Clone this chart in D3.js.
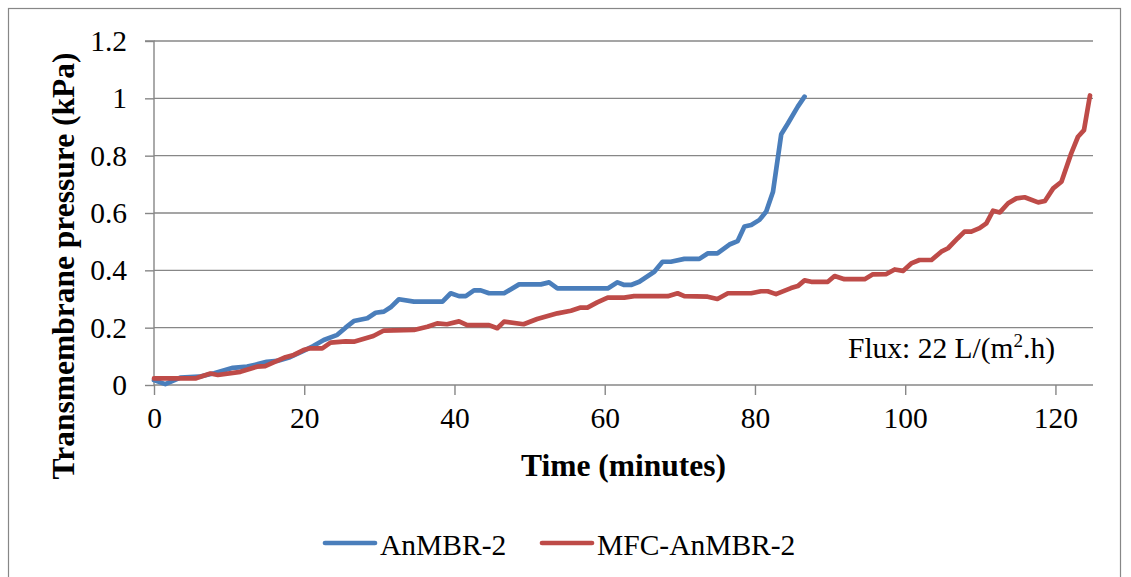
<!DOCTYPE html>
<html>
<head>
<meta charset="utf-8">
<script src="https://cdn.jsdelivr.net/npm/d3@7"></script>
<style>
  html, body { margin: 0; padding: 0; background: #ffffff; }
  svg { display: block; }
  text { font-family: "Liberation Serif", "Times New Roman", serif; fill: #000; }
</style>
</head>
<body>
<svg id="chart" width="1131" height="577"></svg>
<script>
// ---- Data ----
const anmbrTime = [0, 1.5, 3.5, 6, 8, 10.5, 12.4, 13.7, 15, 16.4, 18.1, 19.9, 21.2, 22.6, 24.4, 25.5, 26.6, 28.4, 29.5, 30.6, 31.5, 32.6, 34.6, 38.4, 39.5, 40.6, 41.5, 42.6, 43.5, 44.6, 46.6, 48.6, 51.5, 52.6, 53.7, 60.4, 61.7, 62.6, 63.5, 64.6, 66.6, 67.7, 68.8, 70.6, 72.6, 73.7, 75, 76.6, 77.7, 78.6, 79.5, 80.6, 81.5, 82.4, 83.5, 84.4, 85.7, 86.6];
const anmbrTmp  = [0.017, 0.003, 0.026, 0.029, 0.041, 0.06, 0.064, 0.072, 0.081, 0.084, 0.097, 0.119, 0.136, 0.157, 0.175, 0.2, 0.223, 0.233, 0.252, 0.256, 0.271, 0.299, 0.291, 0.291, 0.32, 0.31, 0.31, 0.33, 0.33, 0.32, 0.32, 0.351, 0.351, 0.358, 0.337, 0.337, 0.358, 0.349, 0.349, 0.36, 0.395, 0.43, 0.43, 0.44, 0.44, 0.459, 0.459, 0.49, 0.502, 0.553, 0.558, 0.576, 0.605, 0.674, 0.875, 0.913, 0.971, 1.006];

const mfcTime = [0, 5.5, 7.5, 8.5, 11.5, 13.7, 14.8, 17.5, 18.6, 19.9, 20.8, 22.4, 23.5, 25.5, 26.6, 29.2, 30.6, 34.6, 36.4, 37.7, 39, 40.6, 41.7, 44.6, 45.7, 46.6, 49.2, 51, 53.7, 55.5, 56.8, 57.7, 59, 60.4, 62.6, 63.9, 68.4, 69.7, 70.6, 73.7, 75, 76.4, 79.5, 80.8, 81.7, 82.8, 84.8, 85.7, 86.6, 87.5, 89.7, 90.6, 91.9, 94.6, 95.7, 97.5, 98.6, 99.7, 100.8, 101.9, 103.5, 104.8, 105.7, 107, 107.9, 108.8, 109.9, 110.8, 111.7, 112.6, 113.7, 114.8, 115.9, 117.7, 118.6, 119.7, 120.8, 122.1, 123, 123.8, 124.6];
const mfcTmp  = [0.023, 0.023, 0.04, 0.035, 0.046, 0.064, 0.066, 0.097, 0.105, 0.122, 0.128, 0.128, 0.148, 0.152, 0.151, 0.171, 0.19, 0.192, 0.203, 0.215, 0.212, 0.222, 0.209, 0.209, 0.198, 0.221, 0.212, 0.23, 0.25, 0.259, 0.27, 0.27, 0.288, 0.305, 0.305, 0.31, 0.31, 0.32, 0.31, 0.308, 0.30, 0.32, 0.32, 0.327, 0.327, 0.317, 0.338, 0.345, 0.365, 0.36, 0.36, 0.38, 0.369, 0.369, 0.386, 0.387, 0.403, 0.398, 0.424, 0.436, 0.436, 0.465, 0.477, 0.512, 0.535, 0.535, 0.547, 0.564, 0.608, 0.602, 0.634, 0.651, 0.655, 0.637, 0.642, 0.686, 0.709, 0.808, 0.866, 0.889, 1.01];

const xTicks = [0, 20, 40, 60, 80, 100, 120];
const yTicks = [0, 0.2, 0.4, 0.6, 0.8, 1, 1.2];
const seriesNames = ["AnMBR-2", "MFC-AnMBR-2"];
const seriesColors = ["#4A7EBB", "#BE4B48"];
const xTitle = "Time (minutes)";
const yTitle = "Transmembrane pressure (kPa)";
const note = "Flux: 22 L/(m";

// ---- Layout ----
const svg = d3.select("#chart");
const x = d3.scaleLinear().domain([0, 125]).range([154, 1093]);
const y = d3.scaleLinear().domain([0, 1.2]).range([385, 41]);
const gridColor = "#878787";

// outer chart border
svg.append("rect").attr("x", 8.5).attr("y", 8.5).attr("width", 1112).attr("height", 620)
  .attr("fill", "none").attr("stroke", gridColor).attr("stroke-width", 1.2);

// horizontal gridlines
svg.append("g").selectAll("line").data(yTicks.filter(d => d > 0)).join("line")
  .attr("x1", x(0)).attr("x2", x(125))
  .attr("y1", d => y(d)).attr("y2", d => y(d))
  .attr("stroke", gridColor).attr("stroke-width", 1.4);

// y axis
const yAxis = d3.axisLeft(y).tickValues(yTicks).tickSize(9).tickPadding(18)
  .tickFormat(d => d3.format("~g")(d));
const gy = svg.append("g").attr("transform", `translate(${x(0)},0)`).call(yAxis);
gy.select(".domain").attr("stroke", gridColor).attr("stroke-width", 1.4)
  .attr("d", `M-9,${y(1.2)}H0V${y(0)}`);
gy.selectAll(".tick line").attr("stroke", gridColor).attr("stroke-width", 1.4);
gy.selectAll(".tick text").attr("font-size", 29.5).attr("font-family", "Liberation Serif").attr("fill", "#000");

// x axis
const xAxis = d3.axisBottom(x).tickValues(xTicks).tickSize(10).tickPadding(12);
const gx = svg.append("g").attr("transform", `translate(0,${y(0)})`).call(xAxis);
gx.select(".domain").attr("stroke", gridColor).attr("stroke-width", 1.4)
  .attr("d", `M${x(0)},0H${x(125)}`);
gx.selectAll(".tick line").attr("stroke", gridColor).attr("stroke-width", 1.4);
gx.selectAll(".tick text").attr("font-size", 29.5).attr("font-family", "Liberation Serif").attr("fill", "#000");

// axis titles
svg.append("text").attr("x", x(62.5)).attr("y", 476).attr("text-anchor", "middle")
  .attr("font-size", 31.5).attr("font-weight", "bold").text(xTitle);
svg.append("text").attr("transform", `translate(74,266) rotate(-90)`).attr("text-anchor", "middle")
  .attr("font-size", 31.5).attr("font-weight", "bold").text(yTitle);

// lines
const line = d3.line().x(d => x(d[0])).y(d => y(d[1]));
const series = [
  d3.zip(anmbrTime, anmbrTmp),
  d3.zip(mfcTime, mfcTmp)
];
svg.append("g").selectAll("path").data(series).join("path")
  .attr("d", line)
  .attr("fill", "none")
  .attr("stroke", (d, i) => seriesColors[i])
  .attr("stroke-width", 4.7)
  .attr("stroke-linejoin", "round")
  .attr("stroke-linecap", "round");

// flux annotation
const ft = svg.append("text").attr("x", 848).attr("y", 358).attr("font-size", 29.5);
ft.append("tspan").text(note);
ft.append("tspan").attr("font-size", 19).attr("dy", -11).text("2");
ft.append("tspan").attr("dy", 11).text(".h)");

// legend
const legendX = [325, 542];
const lg = svg.append("g").selectAll("g").data(seriesNames).join("g")
  .attr("transform", (d, i) => `translate(${legendX[i]},543)`);
lg.append("line").attr("x1", 0).attr("x2", 50).attr("y1", 0).attr("y2", 0)
  .attr("stroke", (d, i) => seriesColors[i]).attr("stroke-width", 4.7).attr("stroke-linecap", "round");
lg.append("text").attr("x", 55).attr("y", 12).attr("font-size", 29.5).text(d => d);
</script>
</body>
</html>
